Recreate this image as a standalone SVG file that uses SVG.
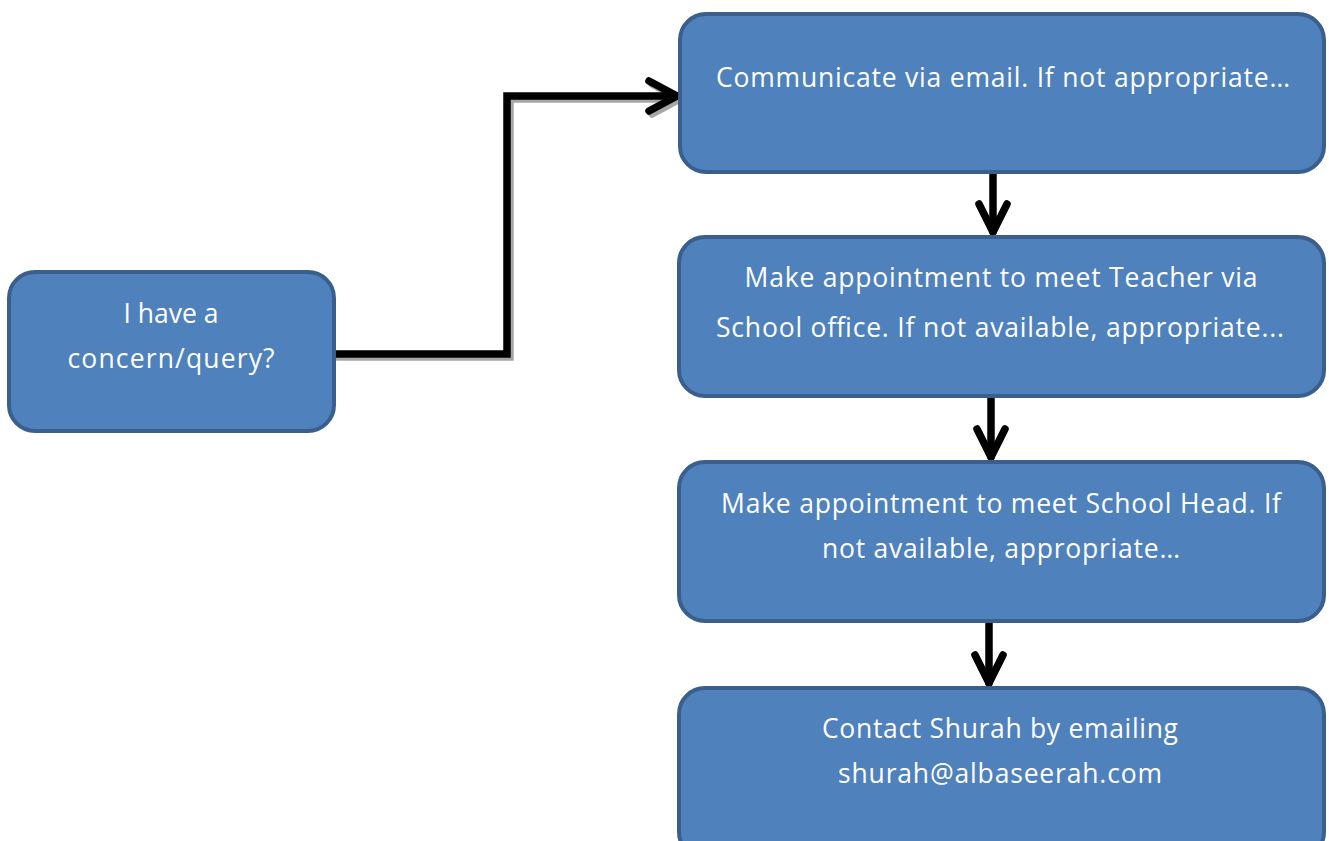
<svg xmlns="http://www.w3.org/2000/svg" width="1329" height="841" viewBox="0 0 1329 841">
<style>
.box{fill:#4F81BD;stroke:#3B5F8C;stroke-width:4}
.t{font-family:"Open Sans","Liberation Sans",sans-serif;font-size:26.5px;fill:#FFFFFF;text-anchor:middle}
.ln{fill:none;stroke:#000;stroke-width:7.5;stroke-linecap:round;stroke-linejoin:miter}
.sh{fill:none;stroke:#A6A6A6;stroke-width:7.5;stroke-linecap:round;stroke-linejoin:miter}
</style>
<rect width="1329" height="841" fill="#FFFFFF"/>
<g id="connectors">
  <g transform="translate(3,3)">
    <path class="sh" d="M334,354 H507 V96 H677"/>
    <path class="sh" d="M649,81 L677,96 L649,111"/>
  </g>
  <path class="ln" d="M334,354 H507 V96 H677"/>
  <path class="ln" d="M649,81 L677,96 L649,111"/>
  <path class="ln" d="M993,174 V232"/>
  <path class="ln" d="M979,204 L993,232 L1007,204"/>
  <path class="ln" d="M991,398 V457"/>
  <path class="ln" d="M977,429 L991,457 L1005,429"/>
  <path class="ln" d="M989,623 V683"/>
  <path class="ln" d="M975,655 L989,683 L1003,655"/>
</g>
<g id="n1">
  <rect class="box" x="9" y="272" width="325" height="159" rx="26"/>
  <text class="t" x="171" y="323">I have a</text>
  <text class="t" x="171" y="368" textLength="207">concern/query?</text>
</g>
<g id="n2">
  <rect class="box" x="680" y="14" width="644" height="158" rx="26"/>
  <text class="t" x="1003" y="87" textLength="574">Communicate via email. If not appropriate…</text>
</g>
<g id="n3">
  <rect class="box" x="679" y="237" width="645" height="159" rx="26"/>
  <text class="t" x="1001" y="287" textLength="513">Make appointment to meet Teacher via</text>
  <text class="t" x="1000" y="337" textLength="568">School office. If not available, appropriate...</text>
</g>
<g id="n4">
  <rect class="box" x="679" y="462" width="645" height="159" rx="26"/>
  <text class="t" x="1001" y="513" textLength="560">Make appointment to meet School Head. If</text>
  <text class="t" x="1001" y="558" textLength="358">not available, appropriate…</text>
</g>
<g id="n5">
  <rect class="box" x="679" y="688" width="645" height="170" rx="26"/>
  <text class="t" x="1000" y="738" textLength="356">Contact Shurah by emailing</text>
  <text class="t" x="1000" y="783" textLength="324">shurah@albaseerah.com</text>
</g>
</svg>
